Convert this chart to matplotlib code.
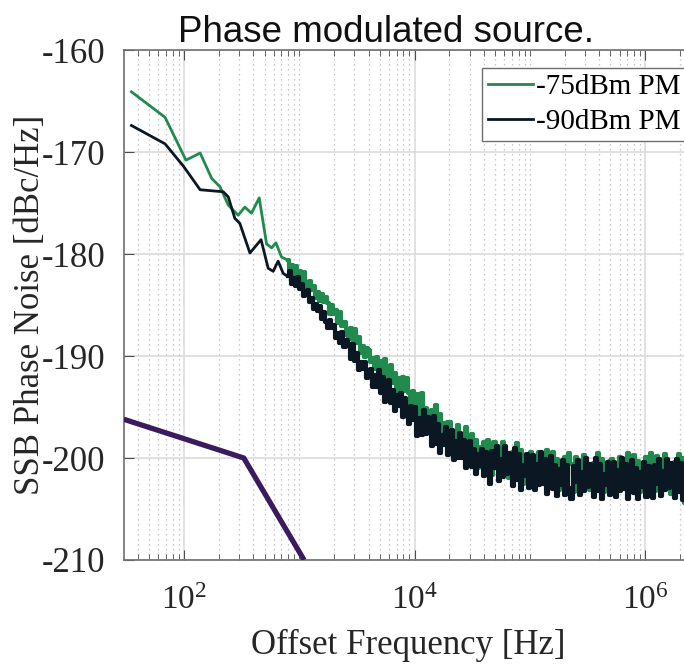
import numpy as np
import matplotlib
matplotlib.use("Agg")
import matplotlib.pyplot as plt
from matplotlib.ticker import FixedLocator, FuncFormatter, NullFormatter, LogLocator

plt.rcParams['axes.unicode_minus'] = False
plt.rcParams['mathtext.fontset'] = 'custom'
plt.rcParams['mathtext.rm'] = 'Liberation Serif'
plt.rcParams['mathtext.it'] = 'Liberation Serif:italic'

# ---------------- data ----------------
# low-offset part (explicit points)
freq_low_75 = [35, 68.5, 104, 138, 174, 205, 242, 295, 337, 385, 449, 520, 575, 627, 701]
pn_low_75 = [-164.1, -166.6, -170.8, -170.1, -172.6, -173.4, -175.2, -176.2, -175.4,
             -176.0, -174.5, -179.0, -179.4, -178.9, -180.3]
freq_low_90 = [35, 68.5, 99, 138, 219, 242, 276, 305, 373, 466, 537, 594, 655, 725]
pn_low_90 = [-167.4, -169.2, -171.4, -173.7, -173.9, -174.4, -176.5, -177.0, -179.9,
             -178.6, -181.4, -181.7, -180.7, -181.9]

# measurement sweep (log-spaced bins) for the upper offsets
sweep_start_hz = 794.0
sweep_stop_hz = 2.5e6
sweep_bins = 200

pn_sweep_75 = [
    -180.6, -181.5, -181.1, -182.0, -181.2, -182.0, -181.7, -182.7, -181.8, -182.8,
    -183.3, -182.6, -183.5, -183.1, -184.3, -183.7, -184.6, -183.9, -184.7, -184.2,
    -184.8, -185.9, -185.0, -185.9, -185.5, -186.8, -185.7, -187.1, -186.7, -187.9,
    -188.1, -187.3, -188.4, -187.4, -188.7, -188.1, -189.7, -189.0, -190.1, -189.2,
    -189.4, -190.6, -190.2, -191.3, -190.1, -191.1, -190.5, -192.3, -190.3, -192.1,
    -192.5, -190.9, -192.6, -191.7, -193.7, -192.2, -193.7, -192.1, -193.4, -192.2,
    -193.6, -195.5, -193.4, -194.9, -193.7, -196.1, -193.6, -196.0, -195.1, -196.9,
    -197.3, -195.3, -197.2, -194.8, -197.2, -195.7, -198.5, -196.6, -198.4, -196.5,
    -196.5, -198.5, -197.4, -199.4, -196.8, -198.5, -197.6, -199.8, -197.0, -199.3,
    -199.9, -197.6, -199.6, -198.2, -201.0, -198.9, -200.7, -198.4, -200.0, -198.2,
    -198.9, -201.7, -198.4, -200.5, -198.9, -201.5, -198.4, -201.2, -199.8, -202.0,
    -201.9, -199.4, -201.5, -198.5, -201.3, -199.2, -202.5, -200.0, -202.0, -199.7,
    -199.4, -201.8, -200.2, -202.6, -199.4, -201.4, -200.1, -202.5, -199.2, -201.9,
    -202.2, -199.4, -201.8, -200.1, -203.1, -200.5, -202.6, -199.9, -201.8, -199.5,
    -200.6, -203.3, -199.9, -202.0, -200.3, -202.9, -199.7, -202.4, -201.0, -203.1,
    -203.1, -200.5, -202.5, -199.5, -202.2, -200.1, -203.3, -200.8, -202.7, -200.3,
    -200.1, -202.4, -200.8, -203.1, -199.9, -201.8, -200.5, -202.9, -199.5, -202.2,
    -202.5, -199.7, -202.0, -200.3, -203.3, -200.6, -202.7, -199.9, -201.8, -199.5,
    -200.7, -203.2, -199.8, -202.1, -200.2, -203.0, -199.6, -202.3, -201.1, -203.5,
    -203.0, -200.4, -202.6, -199.6, -202.1, -200.0, -204.4, -200.7, -202.9, -200.2,
]

pn_sweep_90 = [
    -182.2, -181.7, -182.9, -182.4, -183.1, -182.3, -183.4, -182.9, -184.1, -183.7,
    -183.5, -184.7, -184.3, -185.4, -184.9, -185.6, -185.1, -186.4, -185.7, -186.7,
    -187.3, -186.5, -187.3, -187.0, -188.2, -187.7, -188.7, -187.6, -189.1, -188.4,
    -188.8, -190.3, -188.8, -190.5, -189.7, -191.4, -190.6, -191.3, -190.6, -192.2,
    -192.1, -191.3, -193.0, -191.9, -193.0, -191.4, -193.6, -192.1, -194.5, -193.1,
    -192.4, -194.6, -193.3, -195.4, -193.8, -194.9, -193.6, -196.0, -194.1, -195.9,
    -196.7, -194.9, -196.3, -195.0, -197.8, -196.1, -197.7, -195.3, -197.6, -196.0,
    -196.5, -198.8, -195.9, -198.6, -196.7, -199.5, -197.7, -198.7, -197.0, -199.7,
    -199.0, -197.3, -200.2, -198.3, -200.0, -197.5, -200.0, -198.2, -201.0, -199.2,
    -198.3, -200.9, -199.1, -201.6, -199.6, -200.8, -199.1, -201.8, -199.4, -201.3,
    -202.5, -199.3, -201.0, -198.8, -202.3, -200.1, -201.9, -198.8, -201.6, -199.5,
    -199.9, -202.7, -199.0, -202.2, -199.6, -203.1, -200.7, -201.8, -199.6, -202.9,
    -201.9, -199.7, -203.1, -200.6, -202.6, -199.4, -202.5, -200.1, -203.5, -201.2,
    -199.8, -203.0, -200.7, -203.7, -201.1, -202.6, -200.2, -203.6, -200.7, -202.9,
    -204.0, -200.8, -202.4, -200.2, -203.6, -201.4, -203.2, -200.0, -202.8, -200.6,
    -201.0, -203.8, -200.0, -203.2, -200.6, -204.0, -201.6, -202.6, -200.4, -203.6,
    -202.6, -200.4, -203.8, -201.2, -203.2, -200.0, -203.0, -200.6, -204.0, -201.6,
    -200.2, -203.4, -201.0, -204.0, -201.4, -202.8, -200.4, -203.8, -200.8, -203.0,
    -203.9, -200.7, -202.5, -200.1, -203.7, -201.3, -203.1, -200.1, -202.9, -200.5,
    -201.1, -203.9, -200.1, -203.3, -200.5, -204.1, -201.5, -202.7, -200.3, -203.7,
]

# asymptote (purple)
freq_asym = [30, 330, 1100]
pn_asym = [-196.2, -200.0, -210.0]

labels = ['-75dBm PM', '-90dBm PM']
title = 'Phase modulated source.'
xlabel = 'Offset Frequency [Hz]'
ylabel = 'SSB Phase Noise [dBc/Hz]'
yticks = [-210, -200, -190, -180, -170, -160]
xticks = [1e2, 1e4, 1e6]

# ---------------- build series ----------------
f_sweep = np.logspace(np.log10(sweep_start_hz), np.log10(sweep_stop_hz), sweep_bins)
f75_low = list(freq_low_75) + [f_sweep[0]]
y75_low = list(pn_low_75) + [pn_sweep_75[0]]
f90_low = list(freq_low_90) + [f_sweep[0]]
y90_low = list(pn_low_90) + [pn_sweep_90[0]]

# ---------------- figure ----------------
W, H = 684, 667
fig = plt.figure(figsize=(W / 100, H / 100), dpi=100)
ax_left, ax_right, ax_top, ax_bot = 124, 692, 50, 560
ax = fig.add_axes([ax_left / W, 1 - ax_bot / H, (ax_right - ax_left) / W, (ax_bot - ax_top) / H])

green = '#218a4f'
dark = '#0b1823'
purple = '#3a1b5c'
lw = 2.0
lw_noise = 3.0

ax.plot(f75_low, y75_low, color=green, lw=lw, label=labels[0], zorder=3)
ax.plot(f_sweep, pn_sweep_75, color=green, lw=lw_noise, drawstyle='steps-mid', zorder=3)
ax.plot(f90_low, y90_low, color=dark, lw=lw, label=labels[1], zorder=4)
ax.plot(f_sweep, pn_sweep_90, color=dark, lw=lw_noise, drawstyle='steps-mid', zorder=4)
ax.plot(freq_asym, pn_asym, color=purple, lw=3.8, zorder=5, solid_capstyle='butt')

ax.set_xscale('log')
dec = 115.3
x_lo = 10 ** (2 - (184 - ax_left) / dec)
x_hi = 10 ** (2 + (ax_right - 184) / dec)
ax.set_xlim(x_lo, x_hi)
ax.set_ylim(-210, -160)

ax.xaxis.set_major_locator(FixedLocator(xticks))
ax.xaxis.set_minor_locator(LogLocator(base=10, subs=np.arange(1, 10), numticks=20))
ax.xaxis.set_minor_formatter(NullFormatter())
ax.xaxis.set_major_formatter(FuncFormatter(lambda v, p: r'$10^{%d}$' % int(round(np.log10(v)))))
ax.yaxis.set_major_locator(FixedLocator(yticks))
ax.yaxis.set_major_formatter(FuncFormatter(lambda v, p: '%d' % v))

ax.grid(True, which='major', color='#dcdcdc', lw=1.2, ls='-', zorder=0)
ax.grid(True, which='minor', axis='x', color='#b8b8b8', lw=0.9, ls=(0, (1, 3)), zorder=0)
ax.set_axisbelow(True)

ax.tick_params(which='both', direction='in', top=True, right=False, colors='#4d4d4d')
ax.tick_params(which='major', length=7, width=0.8, labelcolor='#262626')
ax.tick_params(axis='x', which='major', labelsize=24, pad=16.5)
ax.tick_params(axis='y', which='major', labelsize=25, pad=13.5)
ax.tick_params(which='minor', length=4, width=0.6)
for lab in ax.get_yticklabels():
    lab.set_fontfamily('Liberation Serif')
for name, sp in ax.spines.items():
    sp.set_color('#6e6e6e')
    sp.set_linewidth(1.2)
ax.spines['right'].set_visible(False)

ax.set_xlabel(xlabel, fontsize=25, family='Liberation Serif', color='#262626', labelpad=9.6)
ax.set_ylabel(ylabel, fontsize=25, family='Liberation Serif', color='#262626', labelpad=-3.8)
ax.set_title(title, fontsize=26.5, family='Liberation Sans', color='#111111', pad=6,
             x=(386 - ax_left) / (ax_right - ax_left))

leg = ax.legend(loc='upper right', bbox_to_anchor=(1.0, 0.976), prop={'family': 'Liberation Serif', 'size': 21},
                frameon=True, fancybox=False, framealpha=1, edgecolor='#6e6e6e',
                handlelength=1.55, handletextpad=0.1, borderpad=0.2, labelspacing=0.3,
                borderaxespad=0.2)
leg.get_frame().set_linewidth(1.0)

fig.savefig('out.png', dpi=100)
